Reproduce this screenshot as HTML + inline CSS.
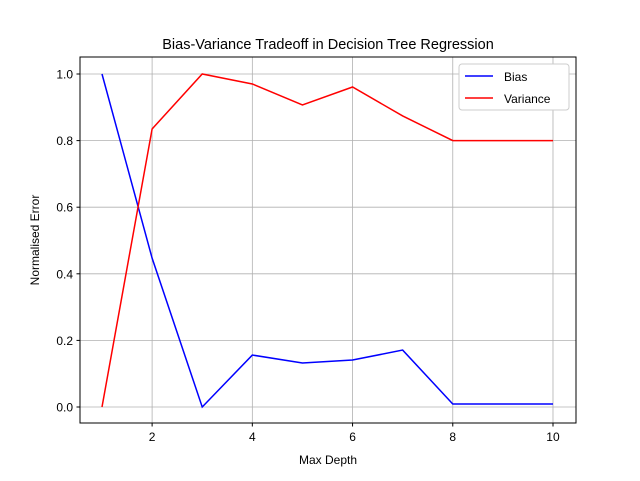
<!DOCTYPE html>
<html><head><meta charset="utf-8"><style>
body{margin:0;background:#fff;}
svg text{font-family:"Liberation Sans","DejaVu Sans",sans-serif;fill:#000;}
</style></head><body>
<svg id="chart" width="640" height="476" xmlns="http://www.w3.org/2000/svg">
<rect width="640" height="476" fill="#fff"/>
<text x="328" y="49" font-size="14.5" text-anchor="middle">Bias-Variance Tradeoff in Decision Tree Regression</text>
<g id="grid"></g>
<g id="ticks"></g>
<g id="series"></g>
<rect x="80" y="57" width="496" height="366" fill="none" stroke="#000" stroke-width="1"/>
<text x="328" y="464" font-size="12" text-anchor="middle">Max Depth</text>
<text transform="translate(39,240) rotate(-90)" font-size="12" text-anchor="middle">Normalised Error</text>
<g>
<rect x="459" y="64" width="110" height="46" fill="#fff" stroke="#ccc" rx="3"/>
<line x1="465" y1="76" x2="493" y2="76" stroke="blue" stroke-width="1.5"/>
<text x="504" y="81" font-size="12">Bias</text>
<line x1="465" y1="98" x2="493" y2="98" stroke="red" stroke-width="1.5"/>
<text x="504" y="103" font-size="12">Variance</text>
</g>
</svg>
<script>
const depths=[1,2,3,4,5,6,7,8,9,10];
const bias=[1.0,0.447,0.0,0.156,0.132,0.141,0.171,0.009,0.009,0.009];
const variance=[0.0,0.835,1.0,0.97,0.907,0.961,0.874,0.80,0.80,0.80];
const xTicks=[2,4,6,8,10];
const yTicks=[0.0,0.2,0.4,0.6,0.8,1.0];
const NS="http://www.w3.org/2000/svg";
function xs(v){return 102+(v-1)*50.11;}
function ys(v){return 407-v*333;}
function mk(tag,attrs,parent){const e=document.createElementNS(NS,tag);for(const k in attrs)e.setAttribute(k,attrs[k]);parent.appendChild(e);return e;}
const grid=document.getElementById('grid'),ticks=document.getElementById('ticks'),series=document.getElementById('series');
xTicks.forEach(t=>{const x=xs(t);
 const g=mk('line',{x1:x,x2:x,y1:57,y2:423,stroke:'#b0b0b0','stroke-width':0.8},grid);
 
 
 mk('line',{x1:x,x2:x,y1:423,y2:426.5,stroke:'#000'},ticks);
 const l=mk('text',{x:x,y:441,'font-size':12,'text-anchor':'middle'},ticks);l.textContent=t;
 
 
});
yTicks.forEach(t=>{const y=ys(t);
 const g=mk('line',{x1:80,x2:576,y1:y,y2:y,stroke:'#b0b0b0','stroke-width':0.8},grid);
 
 
 mk('line',{x1:76.5,x2:80,y1:y,y2:y,stroke:'#000'},ticks);
 const l=mk('text',{x:73,y:y+4.5,'font-size':12,'text-anchor':'end'},ticks);l.textContent=t.toFixed(1);
 
 
});
function line(vals,color,name){
 const p=mk('polyline',{points:vals.map((v,i)=>xs(depths[i])+','+ys(v)).join(' '),fill:'none',stroke:color,'stroke-width':1.5},series);
 
 
}
line(bias,'blue','bias-line');
line(variance,'red','variance-line');
</script>
</body></html>
